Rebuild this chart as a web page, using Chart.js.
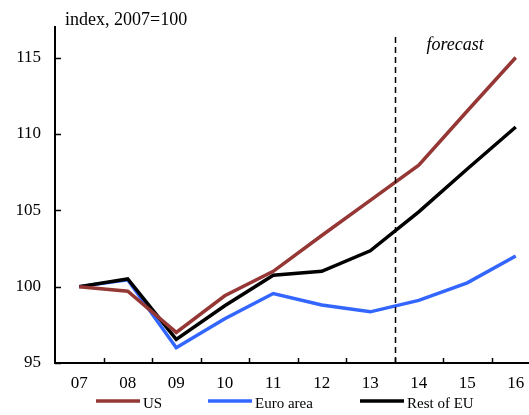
<!DOCTYPE html>
<html>
<head>
<meta charset="utf-8">
<script src="https://cdn.jsdelivr.net/npm/chart.js@4"></script>
<style>
  html, body { margin: 0; padding: 0; overflow: hidden; background: #fff; }
  canvas { display: block; }
</style>
</head>
<body>
<canvas id="chart" width="545" height="415"></canvas>
<script>
// Data
const years = ['07', '08', '09', '10', '11', '12', '13', '14', '15', '16'];
const usValues = [100, 99.7, 97.0, 99.4, 101.0, 103.35, 105.65, 107.95, 111.5, 115.0];
const euroValues = [100, 100.45, 96.0, 97.9, 99.55, 98.8, 98.35, 99.1, 100.25, 102.0];
const restValues = [100, 100.5, 96.55, 98.75, 100.75, 101.0, 102.35, 104.9, 107.7, 110.45];
const yTicks = [95, 100, 105, 110, 115];
const forecastAfter = '13'; // last actual year

const serif = "'Liberation Serif', 'Times New Roman', serif";

// inward tick marks, dashed forecast line, notes and legend
const extras = {
  id: 'extras',
  afterDraw(chart) {
    const ctx = chart.ctx;
    const x = chart.scales.x;
    const y = chart.scales.y;
    const area = chart.chartArea;
    ctx.save();
    ctx.strokeStyle = '#000';
    ctx.lineWidth = 1.5;
    // y ticks
    y.ticks.forEach((t, i) => {
      const py = Math.round(y.getPixelForTick(i)) + 0.5;
      ctx.beginPath();
      ctx.moveTo(area.left, py);
      ctx.lineTo(area.left + 6, py);
      ctx.stroke();
    });
    // x ticks between categories
    for (let i = 1; i <= years.length; i++) {
      const px = Math.round(x.getPixelForValue(i - 0.5)) + 0.5;
      ctx.beginPath();
      ctx.moveTo(px, area.bottom);
      ctx.lineTo(px, area.bottom - 5);
      ctx.stroke();
    }
    // forecast divider
    const fi = years.indexOf(forecastAfter);
    const fx = Math.round(x.getPixelForValue(fi + 0.5)) + 0.5;
    ctx.setLineDash([6, 4]);
    ctx.beginPath();
    ctx.moveTo(fx, area.top + 10);
    ctx.lineTo(fx, area.bottom);
    ctx.stroke();
    ctx.setLineDash([]);

    ctx.fillStyle = '#000';
    ctx.textBaseline = 'middle';
    ctx.textAlign = 'left';
    ctx.font = '18px ' + serif;
    ctx.fillText('index, 2007=100', area.left + 10, 20);
    ctx.font = 'italic 18px ' + serif;
    ctx.fillText('forecast', fx + 31, 45);

    // legend
    const legendX = [96, 208, 360];
    ctx.font = '15px ' + serif;
    chart.data.datasets.forEach((ds, i) => {
      const lx = legendX[i];
      ctx.strokeStyle = ds.borderColor;
      ctx.lineWidth = 3.5;
      ctx.beginPath();
      ctx.moveTo(lx, 401);
      ctx.lineTo(lx + 44, 401);
      ctx.stroke();
      ctx.fillText(ds.label, lx + 47, 404);
    });
    ctx.restore();
  }
};

new Chart(document.getElementById('chart'), {
  type: 'line',
  data: {
    labels: years,
    datasets: [
      { label: 'US', data: usValues, borderColor: '#953735', order: 0 },
      { label: 'Euro area', data: euroValues, borderColor: '#3366ff', order: 2 },
      { label: 'Rest of EU', data: restValues, borderColor: '#000000', order: 1 }
    ]
  },
  options: {
    responsive: false,
    animation: false,
    devicePixelRatio: 1,
    layout: { padding: { top: 27, right: 5, bottom: 22, left: 0 } },
    elements: {
      line: { borderWidth: 3.5, tension: 0, fill: false },
      point: { radius: 0 }
    },
    plugins: { legend: { display: false }, tooltip: { enabled: false } },
    scales: {
      x: {
        offset: true,
        grid: { display: true, drawOnChartArea: false, drawTicks: false },
        border: { display: true, color: '#000', width: 2 },
        ticks: { color: '#000', font: { family: serif, size: 17 }, padding: 10, maxRotation: 0 },
        afterFit(scale) { scale.height = 30; }
      },
      y: {
        min: 95,
        max: 117,
        afterBuildTicks(scale) { scale.ticks = yTicks.map(v => ({ value: v })); },
        grid: { display: true, drawOnChartArea: false, drawTicks: false },
        border: { display: true, color: '#000', width: 2 },
        ticks: { color: '#000', font: { family: serif, size: 17 }, padding: 14 },
        afterFit(scale) { scale.width = 55; }
      }
    }
  },
  plugins: [extras]
});
</script>
</body>
</html>
